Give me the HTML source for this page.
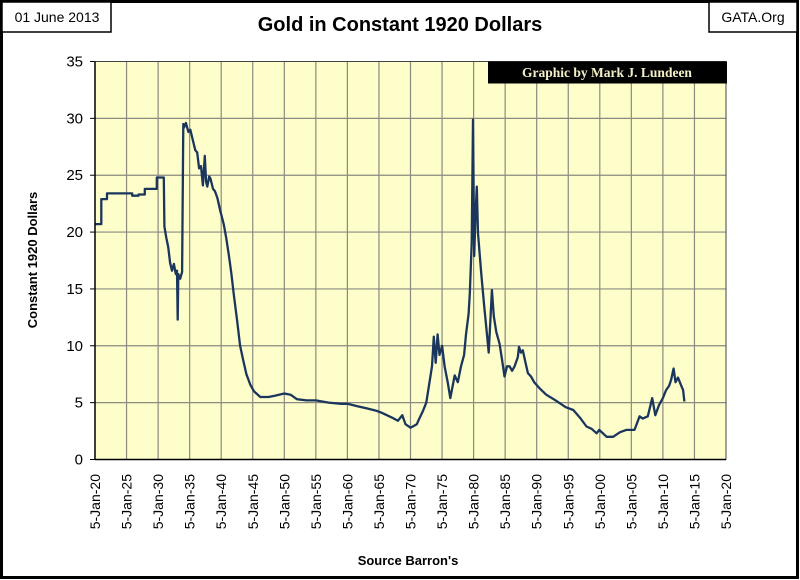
<!DOCTYPE html>
<html><head><meta charset="utf-8"><style>
html,body{margin:0;padding:0;background:#fff;}
svg{display:block;font-family:"Liberation Sans",sans-serif;}
</style></head><body>
<svg id="chart" width="800" height="580" viewBox="0 0 800 580">
<rect x="1.5" y="1.5" width="796" height="576" fill="#fff" stroke="#000" stroke-width="3"/>
<rect x="2" y="2" width="109" height="30" fill="#fff" stroke="#000" stroke-width="1.5"/>
<text x="57" y="22" font-size="14" text-anchor="middle">01 June 2013</text>
<rect x="709" y="2" width="88" height="30" fill="#fff" stroke="#000" stroke-width="1.5"/>
<text x="753" y="22" font-size="14" text-anchor="middle">GATA.Org</text>
<text x="400" y="31" font-size="20" font-weight="bold" text-anchor="middle">Gold in Constant 1920 Dollars</text>
<rect x="95" y="61.5" width="631" height="398" fill="#fefecb"/>
<g id="grid"></g>
<g id="yticks"></g>
<g id="xticks"></g>
<path id="series" fill="none" stroke="#1b365d" stroke-width="2.3" stroke-linejoin="round"/>
<rect x="95" y="61.5" width="631" height="398" fill="none" stroke="#444" stroke-width="1"/>
<line x1="95" y1="61.5" x2="95" y2="460" stroke="#000" stroke-width="1.5"/>
<line x1="95" y1="459.5" x2="726" y2="459.5" stroke="#000" stroke-width="1.5"/>
<rect x="488" y="61.5" width="239" height="22" fill="#000"/>
<text x="607" y="77" font-family="Liberation Serif, serif" font-size="13.5" font-weight="bold" fill="#f3efc8" text-anchor="middle">Graphic by Mark J. Lundeen</text>
<text transform="translate(37,260) rotate(-90)" font-size="13" font-weight="bold" text-anchor="middle">Constant 1920 Dollars</text>
<text x="408" y="565" font-size="13" font-weight="bold" text-anchor="middle">Source Barron's</text>
</svg>
<script>
const years = [1920,1921.0,1921.0,1921.9,1921.9,1925.9,1925.9,1926.9,1926.9,1927.9,1927.9,1929.8,1929.8,1930.9,1931.0,1931.3,1931.6,1931.9,1932.2,1932.5,1932.8,1933.0,1933.1,1933.2,1933.5,1933.8,1934.0,1934.1,1934.4,1934.8,1935.1,1935.5,1935.9,1936.2,1936.5,1936.8,1937.1,1937.4,1937.6,1937.8,1938.1,1938.3,1938.7,1939.0,1939.4,1939.8,1940.4,1940.8,1941.2,1941.6,1942.0,1942.5,1943.0,1943.5,1944.0,1944.6,1945.2,1946.2,1947.5,1948.5,1950,1951,1952,1953.5,1955,1957,1959,1960,1961.5,1963,1964.5,1965.5,1967,1968,1968.7,1969.2,1970,1971,1971.4,1972,1972.5,1972.9,1973.4,1973.7,1974.0,1974.3,1974.6,1975.0,1975.4,1975.9,1976.3,1977,1977.5,1978,1978.5,1978.8,1979.2,1979.4,1979.7,1979.9,1980.1,1980.3,1980.5,1980.7,1981.2,1981.7,1982.0,1982.4,1982.7,1982.9,1983.2,1983.6,1984.1,1984.5,1984.9,1985.3,1985.7,1986.1,1986.5,1987.0,1987.2,1987.5,1987.8,1988.2,1988.6,1989.1,1989.6,1990.4,1991.5,1993,1994.6,1995.8,1996.9,1997.9,1998.7,1999.5,1999.9,2001.1,2002.1,2003.2,2004.2,2005.5,2006.3,2006.8,2007.6,2008.3,2008.8,2009.4,2010.0,2010.5,2011.0,2011.3,2011.7,2012.0,2012.4,2012.9,2013.2,2013.4];
const values = [20.7,20.7,22.9,22.9,23.4,23.4,23.2,23.2,23.3,23.3,23.8,23.8,24.8,24.8,20.5,19.5,18.7,17.3,16.6,17.2,16.3,16.6,12.3,16.3,15.9,16.5,29.5,29.2,29.6,28.8,29.0,28.1,27.2,27.0,25.6,25.8,24.1,26.7,24.4,24.0,24.9,24.7,23.8,23.6,23.0,22.0,20.7,19.5,18.0,16.4,14.5,12.3,10.0,8.7,7.5,6.6,6.0,5.5,5.5,5.6,5.8,5.7,5.3,5.2,5.2,5.0,4.9,4.9,4.7,4.5,4.3,4.1,3.7,3.4,3.9,3.1,2.8,3.1,3.6,4.3,5.0,6.4,8.2,10.8,8.5,11.0,9.2,10.0,8.2,6.8,5.4,7.4,6.8,8.2,9.2,11.0,12.8,14.6,19.0,29.9,17.9,21.5,24.0,19.9,16.4,13.4,11.7,9.4,12.6,14.9,12.6,11.2,10.2,8.8,7.3,8.2,8.2,7.8,8.2,9.0,9.9,9.4,9.6,8.6,7.6,7.3,6.8,6.3,5.7,5.2,4.6,4.35,3.65,2.9,2.7,2.3,2.6,2.0,2.0,2.4,2.6,2.6,3.8,3.6,3.8,5.4,3.9,4.8,5.4,6.1,6.5,7.0,8.0,6.8,7.2,6.5,6.1,5.1];
const yTickLabels = ["0","5","10","15","20","25","30","35"];
const yTickValues = [0,5,10,15,20,25,30,35];
const xTickYears = [1920,1925,1930,1935,1940,1945,1950,1955,1960,1965,1970,1975,1980,1985,1990,1995,2000,2005,2010,2015,2020];
const xTickLabels = ["5-Jan-20","5-Jan-25","5-Jan-30","5-Jan-35","5-Jan-40","5-Jan-45","5-Jan-50","5-Jan-55","5-Jan-60","5-Jan-65","5-Jan-70","5-Jan-75","5-Jan-80","5-Jan-85","5-Jan-90","5-Jan-95","5-Jan-00","5-Jan-05","5-Jan-10","5-Jan-15","5-Jan-20"];

const X0=95, X1=726, Y0=459.5, Y1=61.5;
function xScale(yr){return X0+(yr-1920)/100*(X1-X0);}
function yScale(v){return Y0-v/35*(Y0-Y1);}
const NS="http://www.w3.org/2000/svg";
const grid=document.getElementById('grid'), yt=document.getElementById('yticks'), xt=document.getElementById('xticks');
yTickValues.forEach((v,i)=>{
  const y=yScale(v);
  if(v>0&&v<35){
    const l=document.createElementNS(NS,'line');
    
    
    l.setAttribute('x1',X0);l.setAttribute('x2',X1);l.setAttribute('y1',y);l.setAttribute('y2',y);
    l.setAttribute('stroke','#8a8a80');l.setAttribute('stroke-width','1.2');grid.appendChild(l);
  }
  const tk=document.createElementNS(NS,'line');
  
  
  tk.setAttribute('x1',X0-5);tk.setAttribute('x2',X0);tk.setAttribute('y1',y);tk.setAttribute('y2',y);
  tk.setAttribute('stroke','#000');yt.appendChild(tk);
  const t=document.createElementNS(NS,'text');
  
  
  t.setAttribute('x',X0-12);t.setAttribute('y',y+5);t.setAttribute('text-anchor','end');t.setAttribute('font-size','15');
  t.textContent=yTickLabels[i];yt.appendChild(t);
});
xTickYears.forEach((yr,i)=>{
  const x=xScale(yr);
  if(yr>1920&&yr<2020){
    const l=document.createElementNS(NS,'line');
    
    
    l.setAttribute('x1',x);l.setAttribute('x2',x);l.setAttribute('y1',Y1);l.setAttribute('y2',Y0);
    l.setAttribute('stroke','#8a8a80');l.setAttribute('stroke-width','1.2');grid.appendChild(l);
  }
  const t=document.createElementNS(NS,'text');
  
  
  t.setAttribute('transform','translate('+(x+5)+',474) rotate(-90)');
  t.setAttribute('text-anchor','end');t.setAttribute('font-size','14');
  t.textContent=xTickLabels[i];xt.appendChild(t);
});
let d='';
years.forEach((yr,i)=>{d+=(i?'L':'M')+xScale(yr).toFixed(1)+','+yScale(values[i]).toFixed(1);});
document.getElementById('series').setAttribute('d',d);
</script>
</body></html>
